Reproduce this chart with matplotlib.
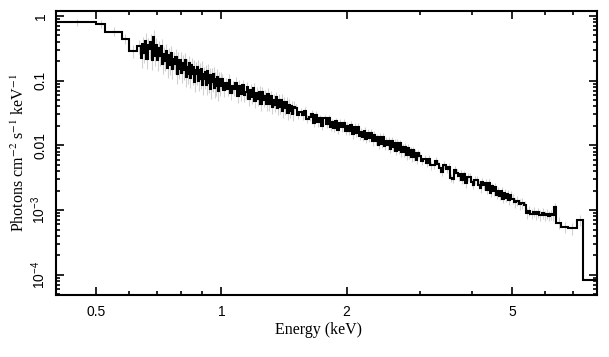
import matplotlib.pyplot as plt
import numpy as np
from matplotlib.ticker import FixedLocator, NullFormatter, LogLocator

plt.rcParams['mathtext.fontset'] = 'stix'
plt.rcParams['font.family'] = 'Liberation Sans'

# Bin edges (keV)
energy_edges = [
    0.40, 0.50, 0.525, 0.575, 0.60, 0.627,
    # 0.64 - 1.0 keV
    0.640, 0.645, 0.650, 0.655, 0.660, 0.665, 0.670, 0.675, 0.680, 0.685,
    0.690, 0.695, 0.700, 0.705, 0.710, 0.715, 0.720, 0.725, 0.730, 0.735,
    0.740, 0.745, 0.750, 0.755, 0.760, 0.765, 0.770, 0.775, 0.780, 0.785,
    0.790, 0.795, 0.800, 0.805, 0.810, 0.815, 0.820, 0.825, 0.830, 0.835,
    0.840, 0.845, 0.850, 0.855, 0.860, 0.865, 0.870, 0.875, 0.880, 0.885,
    0.890, 0.895, 0.900, 0.905, 0.910, 0.915, 0.920, 0.925, 0.930, 0.935,
    0.940, 0.945, 0.950, 0.955, 0.960, 0.965, 0.970, 0.975, 0.980, 0.985,
    0.990, 0.995,
    # 1.0 - 1.5 keV
    1.00, 1.01, 1.02, 1.03, 1.04, 1.05, 1.06, 1.07, 1.08, 1.09,
    1.10, 1.11, 1.12, 1.13, 1.14, 1.15, 1.16, 1.17, 1.18, 1.19,
    1.20, 1.21, 1.22, 1.23, 1.24, 1.25, 1.26, 1.27, 1.28, 1.29,
    1.30, 1.31, 1.32, 1.33, 1.34, 1.35, 1.36, 1.37, 1.38, 1.39,
    1.40, 1.41, 1.42, 1.43, 1.44, 1.45, 1.46, 1.47, 1.48, 1.49,
    # 1.5 - 3.0 keV
    1.50, 1.52, 1.54, 1.56, 1.58, 1.60, 1.62, 1.64, 1.66, 1.68,
    1.70, 1.72, 1.74, 1.76, 1.78, 1.80, 1.82, 1.84, 1.86, 1.88,
    1.90, 1.92, 1.94, 1.96, 1.98, 2.00, 2.02, 2.04, 2.06, 2.08,
    2.10, 2.12, 2.14, 2.16, 2.18, 2.20, 2.22, 2.24, 2.26, 2.28,
    2.30, 2.32, 2.34, 2.36, 2.38, 2.40, 2.42, 2.44, 2.46, 2.48,
    2.50, 2.52, 2.54, 2.56, 2.58, 2.60, 2.62, 2.64, 2.66, 2.68,
    2.70, 2.72, 2.74, 2.76, 2.78, 2.80, 2.82, 2.84, 2.86, 2.88,
    2.90, 2.92, 2.94, 2.96,
    # 3.0 - 5.0 keV
    2.98, 3.02, 3.06, 3.10, 3.14, 3.18, 3.22, 3.26, 3.30, 3.34,
    3.38, 3.42, 3.46, 3.50, 3.54, 3.58, 3.62, 3.66, 3.70, 3.74,
    3.78, 3.82, 3.86, 3.90, 3.94, 3.98, 4.02, 4.06, 4.10, 4.14,
    4.18, 4.22, 4.26, 4.30, 4.34, 4.38, 4.42, 4.46, 4.50, 4.54,
    4.58, 4.62, 4.66, 4.70, 4.74, 4.78, 4.82, 4.86, 4.90, 4.94,
    # 5.0 - 6.4 keV
    4.98, 5.05, 5.12, 5.19, 5.26, 5.33, 5.40, 5.47, 5.54, 5.61,
    5.68, 5.75, 5.82, 5.89, 5.96, 6.03, 6.10, 6.17, 6.24, 6.30,
    # wide bins at the top end
    6.38, 6.56, 6.82, 7.15, 7.40, 8.00,
]

# Unfolded flux (photons cm^-2 s^-1 keV^-1) per bin
flux = [
    0.80, 0.75, 0.57, 0.44, 0.29, 0.34,
    # 0.64 - 1.0 keV
    0.224, 0.364, 0.271, 0.413, 0.218, 0.348, 0.310, 0.398, 0.209, 0.464,
    0.243, 0.351, 0.204, 0.319, 0.240, 0.336, 0.179, 0.253, 0.202, 0.286,
    0.154, 0.246, 0.172, 0.263, 0.150, 0.216, 0.180, 0.234, 0.127, 0.210,
    0.149, 0.211, 0.131, 0.189, 0.146, 0.208, 0.112, 0.163, 0.126, 0.186,
    0.110, 0.173, 0.124, 0.160, 0.094, 0.148, 0.124, 0.161, 0.098, 0.144,
    0.104, 0.153, 0.086, 0.125, 0.104, 0.136, 0.085, 0.138, 0.091, 0.122,
    0.075, 0.122, 0.094, 0.126, 0.076, 0.105, 0.083, 0.115, 0.070, 0.104,
    0.081, 0.106,
    # 1.0 - 1.5 keV
    0.104, 0.071, 0.091, 0.075, 0.102, 0.064, 0.081, 0.073, 0.093, 0.058,
    0.083, 0.063, 0.084, 0.059, 0.066, 0.079, 0.051, 0.072, 0.056, 0.076,
    0.049, 0.065, 0.051, 0.067, 0.044, 0.066, 0.050, 0.058, 0.043, 0.063,
    0.044, 0.0575, 0.0384, 0.0504, 0.0423, 0.0552, 0.0383, 0.0504, 0.0387, 0.0507,
    0.0344, 0.0462, 0.0380, 0.0460, 0.0319, 0.0426, 0.0333, 0.0400, 0.0301, 0.0392,
    # 1.5 - 3.0 keV
    0.0380, 0.0298, 0.0332, 0.0291, 0.0339, 0.0254, 0.0275, 0.0303, 0.0224, 0.0293,
    0.0226, 0.0262, 0.0197, 0.0260, 0.0213, 0.0260, 0.0190, 0.0225, 0.0188, 0.0234,
    0.0174, 0.0222, 0.0189, 0.0224, 0.0166, 0.0202, 0.0167, 0.0206, 0.0148, 0.0191,
    0.0156, 0.0193, 0.0139, 0.0161, 0.0136, 0.0169, 0.0125, 0.0157, 0.0131, 0.0157,
    0.0115, 0.0145, 0.0116, 0.0132, 0.0102, 0.0134, 0.0104, 0.0135, 0.0099, 0.0116,
    0.0100, 0.0118, 0.0089, 0.0118, 0.0095, 0.0108, 0.0081, 0.0109, 0.0084, 0.0107,
    0.0078, 0.0093, 0.0078, 0.0094, 0.0070, 0.0092, 0.0071, 0.0084, 0.0065, 0.0084,
    0.0066, 0.0077, 0.0060, 0.0075,
    # 3.0 - 5.0 keV
    0.00694, 0.00568, 0.00618, 0.00542, 0.00623, 0.00489, 0.00499, 0.00578, 0.00519, 0.00441,
    0.00393, 0.00503, 0.00427, 0.00461, 0.00318, 0.00302, 0.00417, 0.00379, 0.00330, 0.00364,
    0.00292, 0.00356, 0.00259, 0.00329, 0.00327, 0.00269, 0.00246, 0.00293, 0.00293, 0.00247,
    0.00216, 0.00271, 0.00240, 0.00264, 0.00206, 0.00263, 0.00184, 0.00233, 0.00194, 0.00228,
    0.00170, 0.00197, 0.00167, 0.00200, 0.00150, 0.00183, 0.00156, 0.00180, 0.00141, 0.00170,
    # 5.0 - 6.4 keV
    0.00150, 0.00132, 0.00140, 0.00124, 0.00128, 0.00118, 0.00090, 0.00098, 0.00088, 0.00094,
    0.00086, 0.00092, 0.00084, 0.00090, 0.00083, 0.00088, 0.00082, 0.00086, 0.00083, 0.00110,
    # wide bins at the top end
    6.4e-4, 5.5e-4, 5.2e-4, 7.0e-4, 8.4e-5,
]

# Fractional 1-sigma errors (grey bars)
err_a = [0.12, 0.14, 0.16, 0.18, 0.22, 0.25]
err_f = [0.2, 0.2, 0.2, 0.2, 0.0]
err_frac = (err_a + [0.3] * 72 + [0.22] * 50 + [0.14] * 74 + [0.14] * 50
            + [0.18] * 20 + err_f)

xticks = [0.5, 1, 2, 5]
xticklabels = ['0.5', '1', '2', '5']
yticks = [1e-4, 1e-3, 1e-2, 0.1, 1]
yticklabels = [r'$\mathregular{10^{-4}}$', r'$\mathregular{10^{-3}}$', '0.01', '0.1', '1']

edges = np.array(energy_edges)
f = np.array(flux)
centers = 0.5 * (edges[:-1] + edges[1:])
err = f * np.array(err_frac)
lower = np.minimum(err, f * 0.6)

fig = plt.figure(figsize=(6.09, 3.57), dpi=100)
ax = fig.add_axes([0.092, 0.174, 0.888, 0.7955])

ax.errorbar(centers, f, yerr=[lower, err], fmt='none', ecolor='0.82',
            elinewidth=0.8, zorder=1)
ax.stairs(f, edges, baseline=None, color='black', linewidth=1.5, zorder=2)

ax.set_xscale('log')
ax.set_yscale('log')
ax.set_xlim(0.4, 8.0)
ax.set_ylim(4.9e-5, 1.19)

ax.xaxis.set_major_locator(FixedLocator(xticks))
ax.set_xticklabels(xticklabels)
ax.xaxis.set_minor_locator(FixedLocator([0.6, 0.7, 0.8, 0.9, 3, 4, 6, 7]))
ax.xaxis.set_minor_formatter(NullFormatter())
ax.yaxis.set_major_locator(FixedLocator(yticks))
ax.set_yticklabels(yticklabels)
ax.yaxis.set_minor_locator(LogLocator(base=10, subs=np.arange(2, 10)))
ax.yaxis.set_minor_formatter(NullFormatter())

ax.tick_params(which='both', direction='in', top=True, right=True,
               width=1.2, labelsize=10)
ax.tick_params(which='major', length=6)
ax.tick_params(which='minor', length=3)
ax.tick_params(axis='x', pad=7)
ax.tick_params(axis='y', labelrotation=90, pad=6)
for lab in ax.get_yticklabels():
    lab.set_verticalalignment('center')
for s in ax.spines.values():
    s.set_linewidth(1.5)

ax.set_xlabel('Energy (keV)', fontfamily='Liberation Serif', fontsize=11.5)
ax.xaxis.set_label_coords(0.485, -0.095)
ax.set_ylabel(r'Photons cm$^{-2}$ s$^{-1}$ keV$^{-1}$',
              fontfamily='Liberation Serif', fontsize=11.5)
ax.yaxis.set_label_coords(-0.052, 0.5)

fig.savefig('out.png', dpi=100)
